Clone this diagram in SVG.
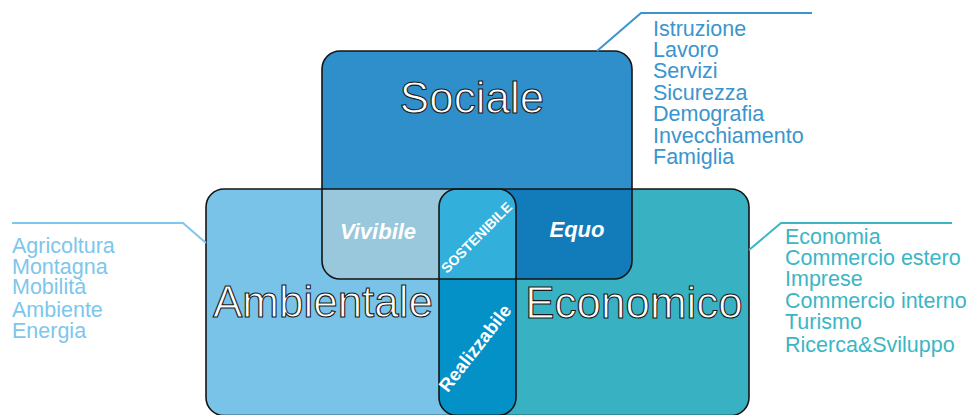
<svg xmlns="http://www.w3.org/2000/svg" width="971" height="415" viewBox="0 0 971 415">
  <style>
    .shape { stroke: #141414; stroke-width: 1.6; }
    .outline { fill: none; stroke: #141414; stroke-width: 1.6; }
    .big { font-family: "Liberation Sans", Arial, sans-serif; font-size: 44px; fill: #ffffff; stroke: #1a1a1a; stroke-width: 1.1; }
    .tag { font-family: "Liberation Sans", Arial, sans-serif; font-weight: bold; fill: #ffffff; }
    .list { font-family: "Liberation Sans", Arial, sans-serif; font-size: 21.5px; }
    .lead { fill: none; stroke-width: 2; }
  </style>
  <defs>
    <clipPath id="clip-s"><rect x="322" y="51" width="310" height="228" rx="18"/></clipPath>
    <clipPath id="clip-a"><rect x="206" y="189" width="310" height="226.5" rx="18"/></clipPath>
    <clipPath id="clip-e"><rect x="439" y="189" width="310" height="226.5" rx="18"/></clipPath>
  </defs>

  <!-- base fills of the three areas -->
  <g id="node-ambientale">
    <rect x="206" y="189" width="310" height="226.5" rx="18" fill="#79c3e9"/>
  </g>
  <g id="node-economico">
    <rect x="439" y="189" width="310" height="226.5" rx="18" fill="#38b2c2"/>
  </g>
  <g id="node-sociale">
    <rect x="322" y="51" width="310" height="228" rx="18" fill="#2e8fca"/>
  </g>

  <!-- overlaps -->
  <g id="node-realizzabile" clip-path="url(#clip-a)">
    <rect x="439" y="189" width="310" height="226.5" rx="18" fill="#0391c8"/>
  </g>
  <g id="node-vivibile" clip-path="url(#clip-s)">
    <rect x="206" y="189" width="310" height="226.5" rx="18" fill="#99c7db"/>
  </g>
  <g id="node-equo" clip-path="url(#clip-s)">
    <rect x="439" y="189" width="310" height="226.5" rx="18" fill="#127bba"/>
  </g>
  <g id="node-sostenibile" clip-path="url(#clip-s)">
    <g clip-path="url(#clip-a)">
      <rect x="439" y="189" width="310" height="226.5" rx="18" fill="#32b0db"/>
    </g>
  </g>

  <!-- borders drawn over every fill -->
  <g id="borders">
    <rect class="outline" x="206" y="189" width="310" height="226.5" rx="18"/>
    <rect class="outline" x="439" y="189" width="310" height="226.5" rx="18"/>
    <rect class="outline" x="322" y="51" width="310" height="228" rx="18"/>
  </g>

  <!-- area titles -->
  <g id="labels">
    <text class="big" x="472" y="113" text-anchor="middle">Sociale</text>
    <text class="big" x="323" y="317" text-anchor="middle">Ambientale</text>
    <text class="big" x="634" y="318" text-anchor="middle">Economico</text>
    <text class="tag" x="378" y="239" font-size="22" font-style="italic" text-anchor="middle">Vivibile</text>
    <text class="tag" x="577" y="237" font-size="22" font-style="italic" text-anchor="middle">Equo</text>
    <text class="tag" x="0" y="0" font-size="14" text-anchor="middle" transform="translate(480 241) rotate(-45)">SOSTENIBILE</text>
    <text class="tag" x="0" y="0" font-size="18.5" text-anchor="middle" transform="translate(480 352) rotate(-52)">Realizzabile</text>
  </g>

  <!-- leader lines to the topic lists -->
  <g id="connectors">
    <polyline class="lead" stroke="#3a95ce" points="597,51 641,13 812,13"/>
    <polyline class="lead" stroke="#7dc6ec" points="12,223 183,223 206,243"/>
    <polyline class="lead" stroke="#3ab6c5" points="749,250 781,223 952,223"/>
  </g>

  <g id="list-sociale" class="list" fill="#3a95ce">
    <text x="653" y="36">Istruzione</text>
    <text x="653" y="57">Lavoro</text>
    <text x="653" y="78">Servizi</text>
    <text x="653" y="100">Sicurezza</text>
    <text x="653" y="121">Demografia</text>
    <text x="653" y="143">Invecchiamento</text>
    <text x="653" y="164">Famiglia</text>
  </g>

  <g id="list-ambientale" class="list" fill="#7dc6ec">
    <text x="12" y="253">Agricoltura</text>
    <text x="12" y="274">Montagna</text>
    <text x="12" y="294">Mobilità</text>
    <text x="12" y="317">Ambiente</text>
    <text x="12" y="338">Energia</text>
  </g>

  <g id="list-economico" class="list" fill="#3ab6c5">
    <text x="785" y="244">Economia</text>
    <text x="785" y="265">Commercio estero</text>
    <text x="785" y="286">Imprese</text>
    <text x="785" y="308">Commercio interno</text>
    <text x="785" y="329">Turismo</text>
    <text x="785" y="352">Ricerca&amp;Sviluppo</text>
  </g>
</svg>
